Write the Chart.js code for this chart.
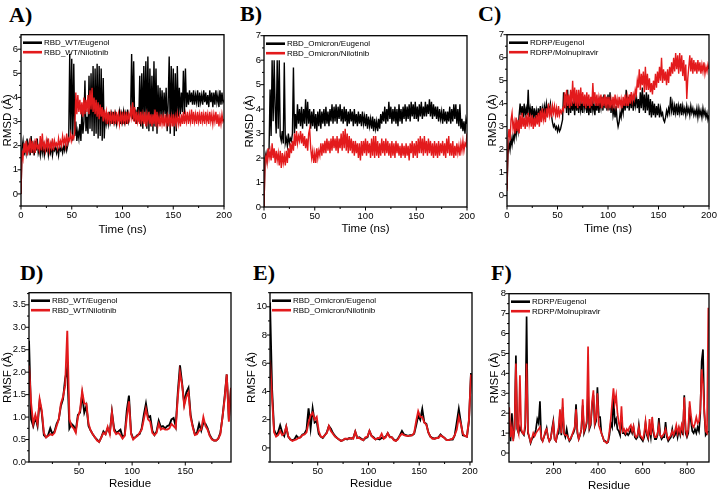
<!DOCTYPE html>
<html>
<head>
<meta charset="utf-8">
<script src="https://cdn.jsdelivr.net/npm/chart.js@4.4.1/dist/chart.umd.min.js"></script>
<style>
html, body { margin: 0; padding: 0; background: #fff; overflow: hidden; }
body { width: 718px; height: 491px; position: relative; }
.tag { position: absolute; font: bold 22px "Liberation Serif", "Times New Roman", serif; line-height: 22px; color: #000; }
.cell { position: absolute; }
</style>
</head>
<body>
<div class="tag" style="left:9px;top:4px">A)</div>
<div class="tag" style="left:240px;top:3px">B)</div>
<div class="tag" style="left:478px;top:3px">C)</div>
<div class="tag" style="left:20px;top:262px">D)</div>
<div class="tag" style="left:253px;top:262px">E)</div>
<div class="tag" style="left:491px;top:262px">F)</div>
<script>
// RMSD traces, one value per ns from 0 to 200 ns
var rmsdStart = 0, rmsdStep = 1;
var wtEugenolRmsd = [
  0.0,1.9,2.2,1.6,2.0,1.7,2.3,1.8,2.1,1.6,
  2.4,1.7,2.0,1.6,2.2,1.8,2.3,1.7,1.9,1.6,
  2.1,1.7,2.0,1.6,1.9,1.8,2.1,1.6,1.9,1.7,
  2.0,1.6,1.9,1.8,2.0,1.7,1.9,1.6,2.0,1.8,
  1.9,1.7,2.0,1.8,2.1,1.8,2.0,2.3,5.8,2.5,
  5.6,2.2,5.4,2.4,3.0,2.2,2.6,2.3,2.9,2.2,
  3.4,2.5,3.0,4.7,2.6,3.2,2.5,4.9,2.7,5.0,
  2.6,5.3,2.4,5.2,2.5,5.4,2.3,5.3,2.4,5.2,
  2.2,4.8,2.3,3.3,2.9,3.2,2.9,3.4,3.0,3.3,
  2.9,3.4,3.0,3.3,2.9,3.2,3.1,3.4,2.9,3.3,
  3.0,3.4,3.0,3.3,2.9,3.5,3.0,3.2,3.4,5.8,
  3.1,5.5,3.0,3.5,2.9,3.6,3.0,4.9,2.8,5.0,
  2.7,5.3,3.0,5.5,2.7,5.7,2.6,5.2,2.8,4.9,
  2.6,5.5,2.8,5.2,2.5,4.5,2.9,4.4,3.2,4.3,
  3.1,4.2,3.3,4.4,2.6,3.8,5.7,2.5,5.3,3.0,
  5.2,2.4,5.0,2.6,5.3,3.2,4.4,3.3,4.2,3.4,
  5.1,3.3,5.2,3.6,4.2,3.7,4.3,3.8,4.2,3.7,
  4.3,3.7,4.1,3.8,4.3,3.6,4.2,3.8,4.1,3.7,
  4.3,3.8,4.2,3.7,4.1,3.6,4.3,3.8,4.2,3.6,
  4.2,3.7,4.3,3.8,4.1,3.6,4.3,3.7,4.2,3.8,
  3.9];
var wtNilotinibRmsd = [
  0.0,1.8,1.5,2.1,1.7,2.2,1.6,2.0,1.8,2.3,
  1.7,2.2,1.8,2.1,1.7,2.3,1.9,2.0,1.8,2.4,
  1.8,2.5,1.9,2.1,1.8,2.2,1.9,2.3,1.8,2.1,
  1.9,2.3,1.8,2.2,2.0,2.1,1.9,2.3,2.0,2.2,
  2.0,2.4,2.1,2.3,2.0,2.5,2.1,2.3,2.2,2.5,
  2.2,2.4,2.3,2.6,4.2,3.3,4.1,3.4,3.9,3.3,
  3.8,3.2,4.0,3.3,3.9,3.4,4.1,3.3,4.3,3.5,
  4.4,3.4,4.0,3.3,3.9,3.2,3.8,3.1,3.7,3.2,
  3.6,3.0,3.5,3.1,3.4,2.9,3.4,3.0,3.3,2.9,
  3.4,3.0,3.3,2.9,3.4,3.0,3.3,2.9,3.3,3.0,
  3.4,2.9,3.3,3.0,3.4,2.9,3.3,3.1,3.5,3.2,
  3.8,3.0,3.6,2.9,3.4,3.0,3.3,2.9,3.4,3.0,
  3.3,2.9,3.4,2.8,3.3,3.0,3.4,2.9,3.3,2.8,
  3.3,2.9,3.5,2.8,3.4,2.9,3.2,2.8,3.3,2.9,
  3.2,2.8,3.3,2.9,3.2,2.8,3.3,2.9,3.2,2.8,
  3.3,2.8,3.2,2.9,3.3,2.9,3.2,2.8,3.3,2.9,
  3.4,2.9,3.3,3.0,3.4,2.9,3.3,3.0,3.5,2.9,
  3.4,3.0,3.3,2.9,3.4,3.0,3.3,2.9,3.4,3.0,
  3.3,2.9,3.4,3.0,3.3,2.9,3.4,3.0,3.3,2.9,
  3.3,3.0,3.4,2.9,3.3,2.8,3.2,2.9,3.3,3.0,
  3.1];
var omiEugenolRmsd = [
  0.0,2.0,2.2,1.9,2.3,2.4,4.8,2.9,6.0,3.5,
  6.0,4.0,3.0,6.0,3.2,6.0,2.9,2.7,3.1,2.6,
  5.9,2.6,2.8,2.5,3.0,2.6,2.8,2.7,3.0,5.7,
  3.0,3.8,3.2,4.2,3.4,4.0,3.3,4.1,3.2,4.0,
  3.4,4.4,3.3,4.3,3.4,4.0,3.2,3.9,3.3,4.0,
  3.2,3.8,3.1,3.9,3.3,4.0,3.2,3.9,3.4,4.0,
  3.3,4.1,3.4,3.9,3.3,4.0,3.5,4.2,3.4,4.1,
  3.5,4.2,3.4,4.1,3.6,4.2,3.5,4.0,3.4,4.1,
  3.5,4.0,3.3,3.9,3.4,4.0,3.5,3.9,3.3,4.0,
  3.4,3.8,3.3,3.9,3.4,3.8,3.3,3.9,3.4,3.7,
  3.3,3.8,3.2,3.7,3.3,3.6,3.2,3.7,3.1,3.6,
  3.2,3.5,3.1,3.6,3.2,3.8,3.4,3.9,3.5,4.1,
  3.4,4.0,3.5,4.3,3.6,4.1,3.4,4.0,3.5,4.1,
  3.4,4.0,3.3,4.2,3.5,4.0,3.4,4.1,3.6,4.2,
  3.5,4.1,3.6,4.2,3.5,4.3,3.7,4.2,3.6,4.3,
  3.6,4.1,3.5,4.2,3.7,4.3,3.6,4.1,3.7,4.3,
  3.7,4.2,3.8,4.4,3.7,4.3,3.6,4.2,3.7,4.1,
  3.6,4.1,3.5,4.0,3.6,3.9,3.4,4.0,3.5,3.9,
  3.4,3.9,3.5,4.1,3.4,4.0,3.5,4.2,3.6,4.2,
  3.4,4.0,3.3,4.2,3.2,3.6,3.1,3.5,3.0,3.6,
  3.4];
var omiNilotinibRmsd = [
  0.0,1.9,2.1,1.8,2.4,2.0,2.3,1.9,2.6,2.0,
  2.4,1.8,2.3,1.9,2.2,1.7,2.3,1.6,2.2,1.8,
  2.1,1.7,2.3,1.8,2.4,2.0,2.6,2.2,2.7,2.3,
  3.0,2.5,3.1,2.6,2.9,2.7,3.1,2.6,3.0,2.5,
  2.9,2.4,2.8,2.3,3.0,3.2,2.4,2.0,2.3,1.8,
  2.2,1.8,2.4,2.0,2.3,2.1,2.6,2.1,2.6,2.2,
  2.7,2.2,2.8,2.3,2.7,2.2,2.8,2.3,2.9,2.4,
  2.8,2.3,2.9,2.2,2.8,2.4,3.0,2.3,3.1,2.4,
  3.2,2.3,3.0,2.2,2.9,2.3,2.8,2.2,2.7,2.1,
  2.7,2.2,2.6,2.0,2.6,1.9,2.7,2.1,2.7,2.2,
  2.8,2.1,2.7,2.2,2.6,2.0,2.8,2.1,2.9,2.0,
  2.9,2.1,2.7,2.0,2.6,2.1,2.8,2.2,2.7,2.1,
  2.8,2.2,2.7,2.1,2.6,2.0,2.7,2.1,2.6,2.0,
  2.7,2.2,2.6,2.1,2.5,2.0,2.6,2.1,2.5,2.0,
  2.6,2.1,2.5,1.9,2.6,2.2,2.7,2.0,2.6,2.1,
  2.7,2.0,2.8,2.2,2.9,2.2,2.8,2.1,2.9,2.2,
  2.7,2.1,2.8,2.2,2.7,2.1,2.6,2.0,2.7,2.1,
  2.6,2.0,2.7,2.1,2.6,2.2,2.7,2.1,2.6,2.0,
  2.8,2.2,2.9,2.1,2.6,2.1,2.7,2.0,2.5,2.1,
  2.6,2.2,2.5,2.1,2.6,2.3,2.7,2.3,2.6,2.5,
  3.0];
var rdrpEugenolRmsd = [
  0.3,1.8,2.3,2.0,2.5,2.2,2.6,2.4,2.9,2.6,
  3.1,2.8,3.5,4.0,3.5,3.9,3.4,4.0,3.5,3.8,
  3.5,4.6,3.4,3.8,3.5,3.9,3.3,3.8,3.4,3.7,
  3.3,3.8,3.4,3.9,3.3,3.8,3.5,3.9,3.6,4.0,
  3.6,3.9,3.7,4.0,3.5,3.2,3.0,3.1,2.9,3.0,
  2.8,3.0,2.8,2.9,3.1,3.3,4.5,3.8,4.4,3.6,
  4.6,3.5,4.3,3.6,4.1,3.7,4.2,3.5,4.3,3.7,
  4.1,3.6,4.2,3.7,4.0,3.6,4.3,3.8,4.1,3.6,
  4.1,3.5,4.0,3.6,4.2,3.7,4.0,3.5,4.1,3.7,
  4.2,3.6,4.1,3.8,4.3,3.7,4.4,3.8,4.3,3.7,
  4.4,3.7,4.5,3.6,4.1,3.5,3.8,3.4,3.9,3.3,
  3.0,3.2,3.6,3.4,3.9,3.6,4.2,3.7,4.6,3.8,
  4.3,3.7,4.4,3.8,4.3,3.7,4.2,3.9,4.4,3.8,
  4.2,3.6,4.5,3.8,4.7,3.7,4.4,3.6,4.5,3.7,
  4.4,3.5,4.2,3.4,4.1,3.5,4.0,3.4,3.9,3.5,
  4.0,3.4,3.8,3.5,3.6,3.3,3.2,3.4,3.7,3.5,
  3.8,3.6,4.3,3.7,4.0,3.5,3.9,3.6,4.0,3.5,
  3.9,3.6,4.0,3.5,3.9,3.6,3.8,3.5,3.9,3.6,
  3.8,3.5,3.9,3.6,3.8,3.5,3.7,3.5,3.8,3.4,
  3.8,3.5,3.7,3.4,3.8,3.5,3.7,3.4,3.6,3.3,
  3.5];
var rdrpMolnupiravirRmsd = [
  0.2,2.5,2.9,2.4,3.3,3.6,2.9,3.2,2.7,3.4,
  2.8,3.3,2.7,3.5,2.9,3.6,3.0,3.4,2.9,3.5,
  3.0,3.6,3.1,3.4,3.0,3.5,2.9,3.4,3.0,3.5,
  3.1,3.6,3.0,3.7,3.2,3.8,3.3,3.6,3.2,3.8,
  3.4,4.0,3.5,3.8,3.4,3.9,3.6,3.9,3.5,3.8,
  3.4,3.9,3.5,3.7,3.6,3.8,3.7,4.5,3.8,4.6,
  3.9,4.4,3.8,4.6,3.9,5.0,4.0,4.7,3.9,4.6,
  3.8,4.6,3.9,4.7,4.0,4.5,3.9,4.4,3.8,4.5,
  3.9,4.4,3.8,4.3,3.9,4.9,4.0,4.5,3.9,4.4,
  3.9,4.3,4.0,4.4,3.8,4.3,3.9,4.4,3.8,4.3,
  3.9,4.3,3.8,4.2,3.9,4.3,3.8,4.4,3.9,4.2,
  3.8,4.3,3.9,4.2,3.8,4.3,3.9,4.4,3.9,4.3,
  3.9,4.4,4.0,4.5,4.1,4.4,4.2,4.6,4.4,5.0,
  4.7,5.5,4.6,5.3,4.8,5.4,4.5,5.6,4.6,5.3,
  4.6,5.1,4.5,4.9,4.4,5.0,4.6,5.3,4.7,5.4,
  4.9,5.6,5.0,6.0,4.9,5.5,5.0,5.4,4.8,5.5,
  4.9,5.6,5.2,5.8,5.3,6.0,5.4,6.2,5.5,6.1,
  5.3,6.2,5.4,6.1,5.2,5.9,5.0,5.7,4.2,5.1,
  5.6,6.1,5.4,6.0,5.3,5.9,5.4,5.8,5.3,5.9,
  5.4,5.8,5.3,5.7,5.4,5.8,5.3,5.6,5.4,5.7,
  5.5];

// RMSF per residue
var wtRmsfStart = 3, wtRmsfStep = 2;
var wtEugenolRmsf = [
  2.70,0.95,0.80,1.00,0.80,1.35,1.10,0.60,0.55,0.60,
  0.75,0.62,0.68,0.85,0.95,1.25,1.40,1.85,2.10,0.75,
  0.85,0.80,0.70,1.05,1.10,1.50,1.10,1.25,0.80,0.70,
  0.62,0.55,0.50,0.45,0.55,0.68,0.62,0.75,0.65,1.12,
  0.75,0.65,0.68,0.72,0.55,0.60,1.15,1.48,0.65,0.52,
  0.55,0.60,0.62,0.75,1.05,1.30,1.00,1.02,0.70,0.60,
  0.68,0.92,0.78,0.80,0.75,0.80,0.82,0.95,0.98,0.80,
  1.55,2.15,1.75,1.30,1.55,1.65,1.05,0.80,0.62,0.65,
  0.85,0.70,0.88,0.85,0.75,0.60,0.52,0.48,0.48,0.52,
  0.65,1.00,1.45,1.95,0.95,1.65];
var wtNilotinibRmsf = [
  2.15,1.30,0.85,1.05,0.85,1.40,1.15,0.65,0.55,0.58,
  0.62,0.60,0.65,0.80,0.95,1.30,1.45,1.70,2.92,0.95,
  0.80,0.75,0.65,1.00,1.15,1.58,1.30,1.30,0.85,0.70,
  0.62,0.55,0.48,0.45,0.55,0.65,0.62,0.78,0.62,1.10,
  0.70,0.62,0.65,0.60,0.52,0.58,1.00,1.35,0.62,0.50,
  0.55,0.58,0.65,0.72,0.95,1.18,0.95,0.90,0.65,0.60,
  0.65,0.85,0.72,0.75,0.72,0.72,0.75,0.85,0.80,0.75,
  1.45,2.00,1.72,1.25,1.45,1.55,1.00,0.78,0.60,0.62,
  0.70,0.72,1.00,0.80,0.72,0.58,0.50,0.48,0.48,0.52,
  0.62,1.00,1.40,1.95,0.90,1.65];
var omiRmsfStart = 3, omiRmsfStep = 2;
var omiEugenolRmsf = [
  10.3,4.2,1.3,0.9,1.1,1.6,1.1,0.85,1.5,0.8,
  0.6,0.55,0.6,0.85,0.7,0.75,0.95,1.0,1.3,2.8,
  1.4,2.8,1.8,1.9,1.0,0.8,0.7,0.9,1.1,1.55,
  1.35,1.05,0.85,0.7,0.6,0.5,0.55,0.65,0.6,0.7,
  0.65,0.7,1.15,0.7,0.75,0.65,0.55,0.7,0.75,1.2,
  0.85,0.75,0.6,0.65,0.6,0.7,0.7,0.8,1.05,0.8,
  0.75,0.6,0.5,0.65,0.9,1.2,0.95,0.9,0.85,0.9,
  0.9,1.0,1.6,2.3,2.0,2.75,1.8,1.7,1.1,0.8,
  0.7,0.65,0.7,0.75,0.95,0.8,0.7,0.55,0.55,0.6,
  0.6,0.9,1.8,2.75,1.8,0.9,0.85,0.8,1.9,5.3];
var omiNilotinibRmsf = [
  6.2,3.6,1.1,0.8,0.9,1.2,0.9,1.0,1.5,0.8,
  0.6,0.5,0.55,0.6,0.7,0.75,0.9,0.95,1.1,1.8,
  2.3,2.5,2.0,2.2,1.2,0.8,0.75,0.9,1.05,1.55,
  1.2,1.0,0.8,0.7,0.6,0.5,0.55,0.65,0.65,0.65,
  0.7,0.65,1.15,0.7,0.7,0.6,0.55,0.75,0.8,1.2,
  0.85,0.7,0.6,0.7,0.7,1.0,0.65,0.75,1.05,0.75,
  0.75,0.55,0.5,0.6,0.85,1.0,0.9,0.85,0.85,0.85,
  0.9,1.05,1.9,2.6,2.2,2.2,1.8,1.65,1.1,0.8,
  0.65,0.65,0.7,0.7,0.9,0.8,0.7,0.55,0.55,0.6,
  0.65,0.9,1.3,2.2,1.7,1.0,0.85,0.8,2.0,5.2];
var rdrpRmsfStart = 1, rdrpRmsfStep = 6;
var rdrpEugenolRmsf = [
  1.5,0.6,2.0,0.7,1.2,4.9,1.2,1.0,1.3,1.1,
  1.0,0.9,1.3,6.85,1.0,0.8,0.5,0.7,0.8,0.9,
  1.2,1.7,1.5,2.6,0.7,0.6,0.8,1.0,1.25,0.8,
  0.6,0.7,1.2,1.6,0.7,0.6,0.9,1.0,2.0,0.9,
  2.3,1.0,0.8,1.2,0.8,0.6,0.7,0.9,1.0,1.2,
  2.45,1.0,0.7,0.9,1.2,2.4,1.0,1.2,1.5,3.0,
  1.2,1.4,2.4,2.9,1.4,1.6,3.3,1.8,1.8,1.0,
  0.8,0.6,0.6,0.5,0.55,0.9,1.5,1.3,2.9,1.5,
  1.7,1.2,1.1,0.9,1.8,1.0,1.0,0.9,1.0,0.9,
  1.0,1.2,1.0,1.3,0.8,0.7,0.8,1.4,0.8,0.7,
  0.6,0.8,1.5,0.9,0.7,1.3,0.8,1.5,1.0,0.7,
  0.7,0.9,1.75,0.9,0.7,0.8,0.8,1.55,0.8,0.6,
  0.7,0.8,1.2,0.8,0.9,1.2,0.8,1.2,0.9,1.3,
  0.9,2.9,1.0,0.8,1.0,2.3,1.6,1.1,1.0,1.2,
  1.0,1.3,1.1,2.0,4.6,5.2,2.0,0.9,1.0,1.1];
var rdrpMolnupiravirRmsf = [
  2.3,0.8,1.3,0.6,1.4,4.5,1.3,1.0,3.9,1.2,
  1.0,0.95,1.5,4.5,1.1,0.8,0.55,0.75,1.0,0.85,
  1.0,1.1,1.2,1.3,0.8,0.6,0.8,1.1,1.2,0.8,
  0.6,0.75,1.1,1.5,0.7,0.6,1.0,1.3,2.2,1.0,
  2.75,1.0,0.9,0.9,0.8,0.65,0.75,0.9,1.1,1.3,
  2.2,1.1,0.7,0.9,1.2,2.7,1.1,1.3,1.6,5.35,
  1.3,1.5,2.6,3.15,1.5,1.8,3.0,1.4,1.2,1.0,
  0.8,0.6,0.55,0.5,0.6,1.1,1.7,2.5,3.25,2.5,
  2.9,2.0,1.5,1.2,2.35,1.1,1.2,1.0,1.2,1.1,
  1.3,1.4,1.1,1.35,0.9,0.8,0.9,1.3,0.9,0.8,
  0.7,1.0,1.6,1.0,0.8,1.7,0.9,1.8,1.1,0.8,
  0.8,1.0,1.4,0.9,0.8,0.9,1.0,1.2,0.9,0.7,
  0.8,0.9,1.1,0.9,1.1,1.4,1.0,1.3,1.0,1.4,
  1.1,2.8,1.2,0.9,1.2,2.6,1.9,1.4,1.3,1.5,
  1.8,1.5,1.6,2.2,4.2,3.5,2.1,1.1,1.0,7.3];

// tick labels
var timeTicks = [0, 50, 100, 150, 200];
var rmsdTicksA = [0, 1, 2, 3, 4, 5, 6];
var rmsdTicksBC = [0, 1, 2, 3, 4, 5, 6, 7];
var wtResTicks = [50, 100, 150];
var wtRmsfTicks = [0.0, 0.5, 1.0, 1.5, 2.0, 2.5, 3.0, 3.5];
var omiResTicks = [50, 100, 150, 200];
var omiRmsfTicks = [0, 2, 4, 6, 8, 10];
var rdrpResTicks = [200, 400, 600, 800];
var rdrpRmsfTicks = [0, 1, 2, 3, 4, 5, 6, 7, 8];

var RED = '#e31a1c';
var FONT = '"Liberation Sans", Arial, sans-serif';
var TITLE_SIZE = 11.5;

function toXY(start, step, vals) {
  return vals.map(function (v, i) { return { x: start + i * step, y: v }; });
}

function minorTicks(major, min, max) {
  var step = major[1] - major[0], out = [];
  for (var v = major[0] - step / 2; v <= max; v += step) {
    if (v >= min) out.push(v);
  }
  return out;
}

// box, ticks and legend drawn over the chart area
var framePlugin = {
  id: 'frame',
  afterDraw: function (chart, args, o) {
    var ctx = chart.ctx, a = chart.chartArea, x = chart.scales.x, y = chart.scales.y;
    ctx.save();
    ctx.strokeStyle = '#000';
    ctx.lineWidth = 1.3;
    ctx.strokeRect(a.left, a.top, a.right - a.left, a.bottom - a.top);
    ctx.lineWidth = 1;
    ctx.beginPath();
    o.xMajor.forEach(function (v) { var p = x.getPixelForValue(v); ctx.moveTo(p, a.bottom); ctx.lineTo(p, a.bottom + 3.5); });
    minorTicks(o.xMajor, x.min, x.max).forEach(function (v) { var p = x.getPixelForValue(v); ctx.moveTo(p, a.bottom); ctx.lineTo(p, a.bottom + 2); });
    o.yMajor.forEach(function (v) { var p = y.getPixelForValue(v); ctx.moveTo(a.left, p); ctx.lineTo(a.left - 3.5, p); });
    minorTicks(o.yMajor, y.min, y.max).forEach(function (v) { var p = y.getPixelForValue(v); ctx.moveTo(a.left, p); ctx.lineTo(a.left - 2, p); });
    ctx.stroke();

    ctx.font = '8px ' + FONT;
    ctx.textBaseline = 'middle';
    ctx.fillStyle = '#000';
    o.names.forEach(function (name, i) {
      var ly = a.top + 8 + i * 9.5;
      ctx.strokeStyle = i === 0 ? '#000' : RED;
      ctx.lineWidth = 2.6;
      ctx.beginPath();
      ctx.moveTo(a.left + 2, ly);
      ctx.lineTo(a.left + 21, ly);
      ctx.stroke();
      ctx.fillText(name, a.left + 23, ly + 0.5);
    });
    ctx.restore();
  }
};

function makePanel(p) {
  var padTop = 8, padRight = 12;
  var half = TITLE_SIZE * 0.6;
  var left = Math.round(p.yTitleX - half);
  var top = p.plot.t - padTop;
  var width = p.plot.r + padRight - left;
  var bottom = Math.round(p.xTitleY + half);
  var height = bottom - top;
  var yW = p.plot.l - left;
  var xH = bottom - p.plot.b;

  var box = document.createElement('div');
  box.className = 'cell';
  box.style.left = left + 'px';
  box.style.top = top + 'px';
  box.style.width = width + 'px';
  box.style.height = height + 'px';
  var cv = document.createElement('canvas');
  box.appendChild(cv);
  document.body.appendChild(box);

  var tickFont = { family: FONT, size: 9.5 };
  var titleFont = { family: FONT, size: TITLE_SIZE };

  new Chart(cv, {
    type: 'line',
    data: {
      datasets: [
        { label: p.names[1], data: toXY(p.start, p.step, p.red), borderColor: RED,
          borderWidth: p.lw, pointRadius: 0, tension: 0, order: 0 },
        { label: p.names[0], data: toXY(p.start, p.step, p.black), borderColor: '#000',
          borderWidth: p.lw, pointRadius: 0, tension: 0, order: 1 }
      ]
    },
    options: {
      responsive: true,
      maintainAspectRatio: false,
      animation: false,
      events: [],
      layout: { padding: { left: 0, top: padTop, right: padRight, bottom: 0 } },
      plugins: {
        legend: { display: false },
        tooltip: { enabled: false },
        frame: { names: p.names, xMajor: p.xTicks, yMajor: p.yTicks }
      },
      scales: {
        x: {
          type: 'linear', min: p.xMin, max: p.xMax,
          grid: { display: false, drawTicks: false },
          border: { display: false },
          ticks: { font: tickFont, color: '#000', padding: 4, autoSkip: false, maxRotation: 0 },
          afterBuildTicks: function (s) { s.ticks = p.xTicks.map(function (v) { return { value: v }; }); },
          afterFit: function (s) { s.height = xH; },
          title: { display: true, text: p.xTitle, font: titleFont, color: '#000', padding: 0 }
        },
        y: {
          type: 'linear', min: p.yMin, max: p.yMax,
          grid: { display: false, drawTicks: false },
          border: { display: false },
          ticks: { font: tickFont, color: '#000', padding: 3, autoSkip: false,
                   callback: function (v) { return p.yFmt ? v.toFixed(1) : String(v); } },
          afterBuildTicks: function (s) { s.ticks = p.yTicks.map(function (v) { return { value: v }; }); },
          afterFit: function (s) { s.width = yW; },
          title: { display: true, text: p.yTitle, font: titleFont, color: '#000', padding: 0 }
        }
      }
    },
    plugins: [framePlugin]
  });
}

var panels = [
  { plot: { l: 21, t: 34, r: 224, b: 206 }, yTitleX: 7.5, xTitleY: 230,
    names: ['RBD_WT/Eugenol', 'RBD_WT/Nilotinib'], black: wtEugenolRmsd, red: wtNilotinibRmsd,
    start: rmsdStart, step: rmsdStep, xMin: 0, xMax: 200, yMin: -0.5, yMax: 6.6,
    xTicks: timeTicks, yTicks: rmsdTicksA, xTitle: 'Time (ns)', yTitle: 'RMSD (Å)', lw: 1.4 },
  { plot: { l: 264, t: 35, r: 467, b: 207 }, yTitleX: 249.5, xTitleY: 229,
    names: ['RBD_Omicron/Eugenol', 'RBD_Omicron/Nilotinib'], black: omiEugenolRmsd, red: omiNilotinibRmsd,
    start: rmsdStart, step: rmsdStep, xMin: 0, xMax: 200, yMin: 0, yMax: 7,
    xTicks: timeTicks, yTicks: rmsdTicksBC, xTitle: 'Time (ns)', yTitle: 'RMSD (Å)', lw: 1.4 },
  { plot: { l: 507, t: 34, r: 709, b: 206 }, yTitleX: 493, xTitleY: 229,
    names: ['RDRP/Eugenol', 'RDRP/Molnupiravir'], black: rdrpEugenolRmsd, red: rdrpMolnupiravirRmsd,
    start: rmsdStart, step: rmsdStep, xMin: 0, xMax: 200, yMin: -0.45, yMax: 7,
    xTicks: timeTicks, yTicks: rmsdTicksBC, xTitle: 'Time (ns)', yTitle: 'RMSD (Å)', lw: 1.4 },
  { plot: { l: 29, t: 292, r: 231, b: 462 }, yTitleX: 7.5, xTitleY: 484.5,
    names: ['RBD_WT/Eugenol', 'RBD_WT/Nilotinib'], black: wtEugenolRmsf, red: wtNilotinibRmsf,
    start: wtRmsfStart, step: wtRmsfStep, xMin: 3, xMax: 193, yMin: 0, yMax: 3.77, yFmt: true,
    xTicks: wtResTicks, yTicks: wtRmsfTicks, xTitle: 'Residue', yTitle: 'RMSF (Å)', lw: 1.9 },
  { plot: { l: 270, t: 292, r: 472, b: 462 }, yTitleX: 252, xTitleY: 484.5,
    names: ['RBD_Omicron/Eugenol', 'RBD_Omicron/Nilotinib'], black: omiEugenolRmsf, red: omiNilotinibRmsf,
    start: omiRmsfStart, step: omiRmsfStep, xMin: 3, xMax: 202, yMin: -1, yMax: 11,
    xTicks: omiResTicks, yTicks: omiRmsfTicks, xTitle: 'Residue', yTitle: 'RMSF (Å)', lw: 1.9 },
  { plot: { l: 509, t: 293, r: 709, b: 462 }, yTitleX: 495, xTitleY: 486,
    names: ['RDRP/Eugenol', 'RDRP/Molnupiravir'], black: rdrpEugenolRmsf, red: rdrpMolnupiravirRmsf,
    start: rdrpRmsfStart, step: rdrpRmsfStep, xMin: 0, xMax: 898, yMin: -0.45, yMax: 8,
    xTicks: rdrpResTicks, yTicks: rdrpRmsfTicks, xTitle: 'Residue', yTitle: 'RMSF (Å)', lw: 1.7 }
];

panels.forEach(makePanel);
</script>
</body>
</html>
